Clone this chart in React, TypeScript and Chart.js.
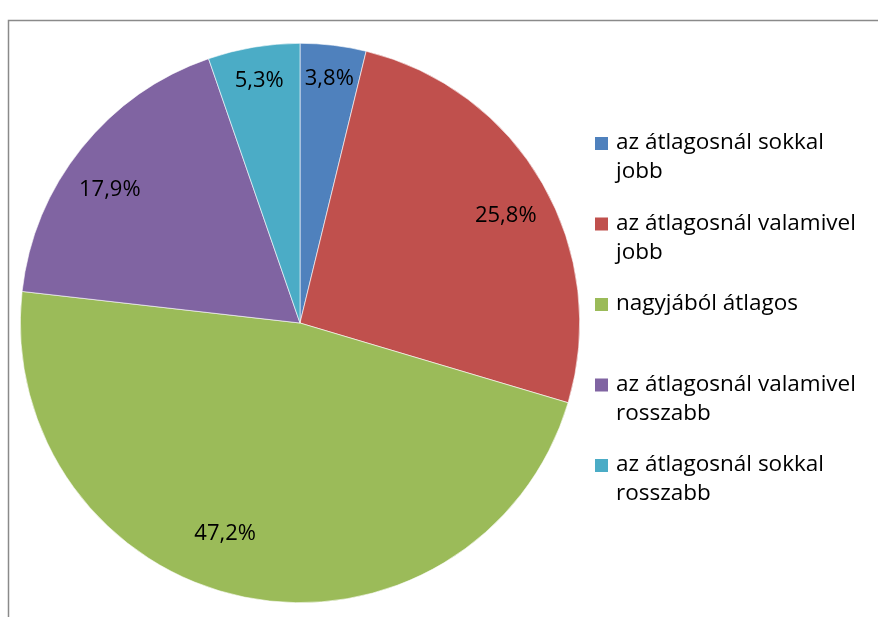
import React, { useEffect, useRef } from "react";
import { Chart, registerables } from "chart.js";

Chart.register(...registerables);

const categories: string[][] = [
  ["az átlagosnál sokkal", "jobb"],
  ["az átlagosnál valamivel", "jobb"],
  ["nagyjából átlagos"],
  ["az átlagosnál valamivel", "rosszabb"],
  ["az átlagosnál sokkal", "rosszabb"],
];
const values: number[] = [3.8, 25.8, 47.2, 17.9, 5.3];
const valueLabels: string[] = ["3,8%", "25,8%", "47,2%", "17,9%", "5,3%"];
const colors: string[] = ["#4F81BD", "#C0504D", "#9BBB59", "#8064A2", "#4BACC6"];

const FONT = "'Open Sans', 'Noto Sans', sans-serif";

const framePlugin = {
  id: "frame",
  beforeDraw(chart: any) {
    const ctx = chart.ctx;
    ctx.save();
    ctx.fillStyle = "#ffffff";
    ctx.fillRect(0, 0, chart.width, chart.height);
    ctx.strokeStyle = "#8a8a8a";
    ctx.lineWidth = 1.5;
    ctx.beginPath();
    ctx.moveTo(8.5, chart.height + 5);
    ctx.lineTo(8.5, 20.5);
    ctx.lineTo(chart.width + 5, 20.5);
    ctx.stroke();
    ctx.restore();
  },
};

const labelRadius = [0.88, 0.83, 0.8, 0.83, 0.88];
const labelAngleShift = [0, 0.04, 0.14, -0.065, 0];

const labelsPlugin = {
  id: "sliceLabels",
  afterDatasetsDraw(chart: any) {
    const ctx = chart.ctx;
    const meta = chart.getDatasetMeta(0);
    ctx.save();
    ctx.font = `22px ${FONT}`;
    ctx.fillStyle = "#000000";
    ctx.textAlign = "center";
    ctx.textBaseline = "middle";
    meta.data.forEach((arc: any, i: number) => {
      const p = arc.getProps(["x", "y", "startAngle", "endAngle", "outerRadius"], true);
      const mid = (p.startAngle + p.endAngle) / 2 + labelAngleShift[i];
      const r = p.outerRadius * labelRadius[i];
      ctx.fillText(valueLabels[i], p.x + Math.cos(mid) * r, p.y + Math.sin(mid) * r);
    });
    ctx.restore();
  },
};

const legendPlugin = {
  id: "customLegend",
  afterDraw(chart: any) {
    const ctx = chart.ctx;
    ctx.save();
    ctx.font = `22.5px ${FONT}`;
    ctx.fillStyle = "#000000";
    ctx.textAlign = "left";
    ctx.textBaseline = "middle";
    const x0 = 595;
    const y0 = 143;
    const slot = 80.5;
    const lineH = 29;
    categories.forEach((lines, i) => {
      const y = y0 + i * slot;
      ctx.fillStyle = colors[i];
      ctx.fillRect(x0, y - 6, 13, 13);
      ctx.fillStyle = "#000000";
      lines.forEach((t, j) => ctx.fillText(t, x0 + 21, y + j * lineH));
    });
    ctx.restore();
  },
};

export default function App() {
  const ref = useRef<HTMLCanvasElement>(null);
  useEffect(() => {
    if (!ref.current) return;
    const chart = new Chart(ref.current, {
      type: "pie",
      data: {
        labels: categories.map((c) => c.join(" ")),
        datasets: [
          {
            data: values,
            backgroundColor: colors,
            borderColor: "#ffffff",
            borderWidth: 0.6,
          },
        ],
      },
      options: {
        responsive: false,
        animation: false,
        layout: { padding: { left: 20, right: 298, top: 43, bottom: 14 } },
        plugins: { legend: { display: false }, tooltip: { enabled: false }, title: { display: false } },
      },
      plugins: [framePlugin, labelsPlugin, legendPlugin],
    });
    return () => chart.destroy();
  }, []);
  return (
    <div style={{ position: "fixed", left: 0, top: 0, width: 878, height: 617 }}>
      <canvas ref={ref} width={878} height={617} style={{ width: 878, height: 617 }} />
    </div>
  );
}
